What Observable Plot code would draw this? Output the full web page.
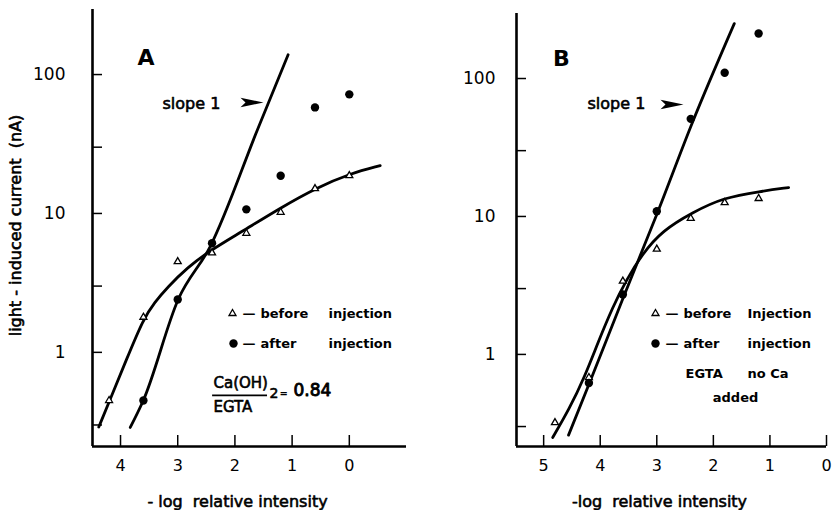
<!DOCTYPE html>
<html>
<head>
<meta charset="utf-8">
<script src="https://cdn.jsdelivr.net/npm/d3@7"></script>
<script src="https://cdn.jsdelivr.net/npm/@observablehq/plot@0.6"></script>
<style>
  body { margin: 0; background: #fff; }
  #wrap { display: flex; width: 832px; height: 510px; }
  svg text { white-space: pre; }
</style>
</head>
<body>
<div id="wrap"></div>
<script>
// ---------- Panel A data ----------
const xBeforeA = [4.2, 3.6, 3.0, 2.4, 1.8, 1.2, 0.6, 0.0];
const beforeA  = [0.45, 1.79, 4.5, 5.2, 7.2, 10.2, 15.1, 18.7];
const xAfterA  = [3.6, 3.0, 2.4, 1.8, 1.2, 0.6, 0.0];
const afterA   = [0.45, 2.4, 6.1, 10.7, 18.7, 58, 72];
// hand-drawn fitted curves (panel A)
const fitBeforeAx = [4.38, 4.19, 3.9, 3.6, 3.4, 3.18, 2.83, 2.43, 1.9, 1.2, 0.56, -0.02, -0.54];
const fitBeforeAy = [0.29, 0.45, 0.88, 1.75, 2.3, 2.94, 4.09, 5.42, 7.3, 11, 15.4, 19.4, 22.1];
const fitAfterAx  = [3.83, 3.6, 2.99, 2.43, 1.59, 1.07];
const fitAfterAy  = [0.288, 0.452, 2.41, 5.8, 41.6, 139];

// ---------- Panel B data ----------
const xBeforeB = [4.8, 4.2, 3.6, 3.0, 2.4, 1.8, 1.2];
const beforeB  = [0.32, 0.68, 3.4, 5.8, 9.7, 12.6, 13.5];
const xAfterB  = [4.2, 3.6, 3.0, 2.4, 1.8, 1.2];
const afterB   = [0.62, 2.72, 10.9, 51, 110, 212];
const fitBeforeBx = [4.84, 4.55, 4.28, 4.03, 3.78, 3.55, 3.25, 2.9, 2.37, 1.82, 1.17, 0.67];
const fitBeforeBy = [0.25, 0.40, 0.68, 1.25, 2.2, 3.4, 5.4, 7.9, 10.7, 13.7, 15.2, 16.2];
const fitAfterBx  = [4.56, 4.19, 3.59, 2.99, 2.37, 1.63];
const fitAfterBy  = [0.26, 0.62, 2.6, 10.6, 48, 250];

// ---------- axes ----------
const yTicks = [0.3, 1, 3, 10, 30, 100];
const yTickLabels = [1, 10, 100];
const xTicksA = [4, 3, 2, 1, 0];
const xTicksB = [5, 4, 3, 2, 1, 0];
const yTitle = "light - induced current  (nA)";
const xTitleA = "- log  relative intensity";
const xTitleB = "-log  relative intensity";

const zip = (xs, ys) => xs.map((x, i) => ({x, y: ys[i]}));

const wedge = {
  draw(ctx) {
    ctx.moveTo(0, 0);
    ctx.lineTo(-23, -4.8);
    ctx.lineTo(-18, 0);
    ctx.lineTo(-23, 4.8);
    ctx.closePath();
  }
};

const W = 416, H = 510;
const heavy = {stroke: "black", strokeWidth: 0.6};

function panel(cfg) {
  const fw = W - cfg.marginLeft - cfg.marginRight;
  const fh = H - cfg.marginTop - cfg.marginBottom;
  const T = (text, o) => Plot.text([text], {frameAnchor: "top-left", textAnchor: "start", lineAnchor: "middle", fill: "black", ...o});
  return Plot.plot({
    width: W, height: H,
    marginLeft: cfg.marginLeft, marginRight: cfg.marginRight,
    marginTop: cfg.marginTop, marginBottom: cfg.marginBottom,
    x: {type: "linear", domain: cfg.xDomain},
    y: {type: "log", domain: cfg.yDomain},
    style: {fontFamily: "DejaVu Sans", color: "black", background: "white", overflow: "visible"},
    marks: [
      Plot.ruleX([cfg.xDomain[0]], {stroke: "black", strokeWidth: 2.6}),
      Plot.ruleY([cfg.yDomain[0]], {stroke: "black", strokeWidth: 2.6}),
      Plot.tickY(yTicks, {y: d => d, insetRight: fw - 10, stroke: "black", strokeWidth: 1.5}),
      Plot.tickX(cfg.xTicks, {x: d => d, insetTop: fh - 11, stroke: "black", strokeWidth: 1.5}),
      Plot.axisY(yTickLabels, {tickSize: 0, tickPadding: cfg.yPad, fontSize: 17, label: null, tickFormat: d => String(d), ...heavy}),
      Plot.axisX(cfg.xTicks, {tickSize: 0, tickPadding: 13, fontSize: 16, label: null, tickFormat: d => String(d), ...heavy}),
      // curves
      Plot.line(zip(cfg.fitBx, cfg.fitBy), {x: "x", y: "y", curve: "basis", stroke: "black", strokeWidth: 2.8}),
      Plot.line(zip(cfg.fitAx, cfg.fitAy), {x: "x", y: "y", curve: "monotone-x", stroke: "black", strokeWidth: 2.8}),
      // points
      Plot.dot(zip(cfg.xb, cfg.yb), {x: "x", y: "y", symbol: "triangle", r: 2.6, fill: "white", stroke: "black", strokeWidth: 1.3}),
      Plot.dot(zip(cfg.xa, cfg.ya), {x: "x", y: "y", r: 4.2, fill: "black"}),
      // titles
      Plot.text([cfg.yTitle || ""], {frameAnchor: "left", rotate: -90, dx: cfg.yTitleDx, dy: -2.5, fontSize: 16, fill: "black", textAnchor: "middle", lineAnchor: "middle", letterSpacing: 0.6, ...heavy}),
      Plot.text([cfg.xTitle], {frameAnchor: "bottom", dx: -12, dy: 55, fontSize: 16, fill: "black", textAnchor: "middle", lineAnchor: "middle", letterSpacing: 0.6, ...heavy}),
      ...cfg.annotations(T)
    ]
  });
}

const plotA = panel({
  marginLeft: 92, marginRight: 10, marginTop: 9, marginBottom: 64,
  xDomain: [4.49, -1.0], yDomain: [0.21, 294], xTicks: xTicksA, yPad: 27,
  xb: xBeforeA, yb: beforeA, xa: xAfterA, ya: afterA,
  fitBx: fitBeforeAx, fitBy: fitBeforeAy, fitAx: fitAfterAx, fitAy: fitAfterAy,
  yTitle: yTitle, yTitleDx: -77, xTitle: xTitleA,
  annotations: T => [
    T("A", {dx: 53.5, dy: 48.5, textAnchor: "middle", fontSize: 22, fontWeight: "bold"}),
    T("slope 1", {dx: 70, dy: 94, fontSize: 16, ...heavy}),
    Plot.dot([0], {frameAnchor: "top-left", dx: 171, dy: 93, symbol: wedge, fill: "black"}),
    Plot.dot([0], {frameAnchor: "top-left", dx: 140, dy: 304, symbol: "triangle", r: 2.6, fill: "white", stroke: "black", strokeWidth: 1.3}),
    Plot.dot([0], {frameAnchor: "top-left", dx: 141, dy: 334, r: 4.2, fill: "black"}),
    T("—", {dx: 150, dy: 304, fontSize: 13, fontWeight: "bold"}),
    T("before", {dx: 168, dy: 304, fontSize: 13, fontWeight: "bold", letterSpacing: 0.5}),
    T("injection", {dx: 236, dy: 304, fontSize: 13, fontWeight: "bold"}),
    T("—", {dx: 150, dy: 334, fontSize: 13, fontWeight: "bold"}),
    T("after", {dx: 168, dy: 334, fontSize: 13, fontWeight: "bold", letterSpacing: 0.5}),
    T("injection", {dx: 236, dy: 334, fontSize: 13, fontWeight: "bold"}),
    T("Ca(OH)", {dx: 121, dy: 374, fontSize: 15, ...heavy}),
    Plot.ruleY([0.49], {x1: 2.39, x2: 1.43, stroke: "black", strokeWidth: 1.6}),
    T("EGTA", {dx: 121, dy: 398, fontSize: 15, letterSpacing: 1, ...heavy}),
    T("2", {dx: 177, dy: 384, fontSize: 14, ...heavy}),
    T("=", {dx: 187, dy: 384, fontSize: 10, fontWeight: "bold"}),
    T("0.84", {dx: 201, dy: 381, fontSize: 17, letterSpacing: 3, stroke: "black", strokeWidth: 0.9})
  ]
});

const plotB = panel({
  marginLeft: 100, marginRight: 6, marginTop: 13, marginBottom: 64,
  xDomain: [5.48, 0], yDomain: [0.215, 296], xTicks: xTicksB, yPad: 21,
  xb: xBeforeB, yb: beforeB, xa: xAfterB, ya: afterB,
  fitBx: fitBeforeBx, fitBy: fitBeforeBy, fitAx: fitAfterBx, fitAy: fitAfterBy,
  yTitle: "", yTitleDx: 0, xTitle: xTitleB,
  annotations: T => [
    T("B", {dx: 45, dy: 45, textAnchor: "middle", fontSize: 22, fontWeight: "bold"}),
    T("slope 1", {dx: 71, dy: 90, fontSize: 16, ...heavy}),
    Plot.dot([0], {frameAnchor: "top-left", dx: 167, dy: 91, symbol: wedge, fill: "black"}),
    Plot.dot([0], {frameAnchor: "top-left", dx: 139, dy: 300, symbol: "triangle", r: 2.6, fill: "white", stroke: "black", strokeWidth: 1.3}),
    Plot.dot([0], {frameAnchor: "top-left", dx: 139, dy: 330, r: 4.2, fill: "black"}),
    T("—", {dx: 149, dy: 300, fontSize: 13, fontWeight: "bold"}),
    T("before", {dx: 167, dy: 300, fontSize: 13, fontWeight: "bold", letterSpacing: 0.5}),
    T("Injection", {dx: 231, dy: 300, fontSize: 13, fontWeight: "bold"}),
    T("—", {dx: 149, dy: 330, fontSize: 13, fontWeight: "bold"}),
    T("after", {dx: 167, dy: 330, fontSize: 13, fontWeight: "bold", letterSpacing: 0.5}),
    T("injection", {dx: 231, dy: 330, fontSize: 13, fontWeight: "bold"}),
    T("EGTA", {dx: 169, dy: 360, fontSize: 13, fontWeight: "bold", letterSpacing: 1}),
    T("no Ca", {dx: 231, dy: 360, fontSize: 13, fontWeight: "bold", letterSpacing: 0.5}),
    T("added", {dx: 219, dy: 384, textAnchor: "middle", fontSize: 13, fontWeight: "bold", letterSpacing: 0.5})
  ]
});

const wrap = document.getElementById("wrap");
wrap.appendChild(plotA);
wrap.appendChild(plotB);
</script>
</body>
</html>
